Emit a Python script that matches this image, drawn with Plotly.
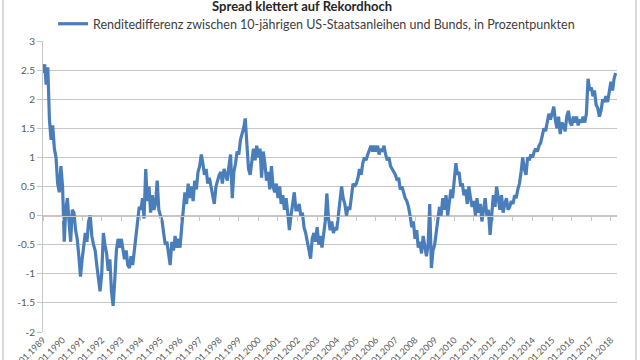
import plotly.graph_objects as go
import pandas as pd

# monthly readings, 1989-01 .. 2018-04
spread_1989 = [2.45, 2.6, 2.25, 2.55, 1.65, 1.3, 1.55, 1.15, 1.0, 0.55, 0.4, 0.85]
spread_1990 = [0.5, -0.45, 0.1, 0.3, -0.1, -0.45, 0.1, 0.05, -0.25, -0.4, -0.7, -1.05]
spread_1991 = [-0.75, -0.45, -0.3, -0.45, -0.1, 0.0, -0.35, -0.5, -0.6, -0.85, -1.05, -1.3]
spread_1992 = [-1.0, -0.3, -0.5, -0.65, -0.95, -0.75, -1.3, -1.55, -1.1, -0.6, -0.4, -0.55]
spread_1993 = [-0.4, -0.6, -0.75, -0.6, -0.85, -0.9, -0.7, -0.85, -0.6, -0.3, -0.05, 0.15]
spread_1994 = [0.1, 0.3, -0.05, 0.8, 0.25, 0.5, 0.05, 0.35, 0.1, 0.2, 0.6, 0.1]
spread_1995 = [0.0, -0.1, -0.3, -0.5, -0.45, -0.7, -0.85, -0.45, -0.6, -0.35, -0.55, -0.4]
spread_1996 = [-0.55, -0.2, 0.1, 0.4, 0.2, 0.55, 0.3, 0.5, 0.25, 0.6, 0.45, 0.75]
spread_1997 = [0.85, 1.05, 0.9, 0.7, 0.8, 0.55, 0.65, 0.5, 0.4, 0.2, 0.5, 0.6]
spread_1998 = [0.7, 0.75, 0.55, 0.8, 0.7, 0.6, 0.85, 1.05, 0.3, 0.75, 0.9, 1.1]
spread_1999 = [1.05, 1.3, 1.4, 1.5, 1.67, 1.1, 0.8, 0.7, 0.9, 1.15, 0.95, 1.2]
spread_2000 = [1.0, 1.15, 0.65, 1.1, 0.9, 0.6, 0.75, 0.45, 0.85, 0.5, 0.4, 0.55]
spread_2001 = [0.3, 0.5, 0.2, 0.35, 0.1, 0.3, 0.05, -0.25, 0.0, 0.2, 0.4, 0.1]
spread_2002 = [0.1, 0.2, 0.0, 0.05, -0.2, -0.3, -0.45, -0.55, -0.74, -0.4, -0.3, -0.45]
spread_2003 = [-0.2, -0.5, -0.35, -0.55, -0.3, -0.1, 0.38, -0.05, -0.25, -0.1, -0.3, -0.2]
spread_2004 = [-0.25, 0.0, 0.2, 0.5, 0.3, 0.2, 0.0, 0.15, 0.1, 0.35, 0.55, 0.5]
spread_2005 = [0.55, 0.65, 0.8, 0.7, 0.9, 1.0, 0.95, 1.05, 1.15, 1.2, 1.1, 1.2]
spread_2006 = [1.1, 1.2, 1.05, 1.15, 1.1, 1.2, 1.05, 0.95, 1.0, 0.85, 0.8, 0.75]
spread_2007 = [0.7, 0.6, 0.65, 0.45, 0.5, 0.4, 0.3, 0.25, 0.15, 0.0, -0.2, -0.1]
spread_2008 = [-0.4, -0.25, -0.55, -0.45, -0.65, -0.35, -0.55, -0.7, -0.5, 0.2, -0.9, -0.6]
spread_2009 = [-0.5, -0.3, -0.1, 0.15, 0.0, 0.3, 0.1, 0.35, 0.0, 0.2, 0.45, 0.3]
spread_2010 = [0.55, 0.9, 0.7, 0.75, 0.5, 0.55, 0.35, 0.45, 0.2, 0.5, 0.3, 0.15]
spread_2011 = [0.25, 0.0, 0.3, 0.05, 0.2, -0.1, 0.1, 0.3, 0.0, 0.1, -0.33, 0.1]
spread_2012 = [0.35, 0.15, 0.5, 0.3, 0.1, 0.35, 0.05, 0.2, 0.3, 0.1, 0.15, 0.25]
spread_2013 = [0.2, 0.35, 0.3, 0.45, 0.55, 0.75, 1.0, 0.8, 0.7, 1.0, 0.95, 1.05]
spread_2014 = [1.0, 1.1, 1.15, 1.1, 1.2, 1.25, 1.35, 1.5, 1.45, 1.6, 1.75, 1.65]
spread_2015 = [1.75, 1.87, 1.65, 1.5, 1.7, 1.4, 1.6, 1.55, 1.45, 1.7, 1.8, 1.6]
spread_2016 = [1.55, 1.7, 1.6, 1.7, 1.55, 1.65, 1.6, 1.7, 1.6, 1.75, 2.35, 2.15]
spread_2017 = [2.2, 2.05, 2.15, 1.9, 1.85, 1.7, 1.8, 2.0, 1.95, 2.05, 1.95, 2.1]
spread_2018 = [2.3, 2.15, 2.35, 2.45]

spread = (spread_1989 + spread_1990 + spread_1991 + spread_1992 + spread_1993 + spread_1994
          + spread_1995 + spread_1996 + spread_1997 + spread_1998 + spread_1999 + spread_2000
          + spread_2001 + spread_2002 + spread_2003 + spread_2004 + spread_2005 + spread_2006
          + spread_2007 + spread_2008 + spread_2009 + spread_2010 + spread_2011 + spread_2012
          + spread_2013 + spread_2014 + spread_2015 + spread_2016 + spread_2017 + spread_2018)
dates = pd.date_range("1989-01-01", periods=len(spread), freq="MS")

years = list(range(1989, 2019))
x_tick_vals = [f"{y}-01-01" for y in years]
x_tick_text = [f"01.01.{y}" for y in years]
y_tick_vals = [-2, -1.5, -1, -0.5, 0, 0.5, 1, 1.5, 2, 2.5, 3]
y_tick_text = ["-2", "-1.5", "-1", "-0.5", "0", "0.5", "1", "1.5", "2", "2.5", "3"]

title_text = "Spread klettert auf Rekordhoch"
series_name = "Renditedifferenz zwischen 10-jährigen US-Staatsanleihen und Bunds, in Prozentpunkten"

FONT = "Lato"
BLUE = "#4a7ebb"
GRID = "#c6c6c6"
TXT = "#595959"

fig = go.Figure()
fig.add_trace(go.Scatter(x=dates, y=spread, mode="lines", name=series_name,
                         line=dict(color=BLUE, width=3.2)))
# invisible trace on second x axis so that it renders (axis crossing at 0)
fig.add_trace(go.Scatter(x=[dates[0]], y=[0], xaxis="x2", mode="lines",
                         showlegend=False, hoverinfo="skip", line=dict(width=0)))

xr = ["1989-01-01", "2018-04-25"]
fig.update_layout(
    width=640, height=360,
    margin=dict(l=43, r=23, t=41, b=28, autoexpand=False),
    paper_bgcolor="white", plot_bgcolor="white",
    font=dict(family=FONT, color=TXT),
    title=dict(text=f"<b>{title_text}</b>", x=0.472, xanchor="center",
               y=0.981, yref="container", yanchor="middle",
               font=dict(size=13, color="#262626", family=FONT)),
    showlegend=True,
    legend=dict(orientation="h", x=0.0175, xanchor="left", y=1.058, yanchor="middle",
                font=dict(size=12.5, color="#404040", family=FONT),
                bgcolor="rgba(0,0,0,0)", itemwidth=30),
    xaxis=dict(type="date", range=xr, tickmode="array", tickvals=x_tick_vals,
               ticktext=x_tick_text, tickangle=-45, showgrid=False, zeroline=False,
               showline=False, ticks="", automargin=False,
               tickfont=dict(size=9, color=TXT)),
    xaxis2=dict(type="date", range=xr, overlaying="x", anchor="free", position=0.4,
                tickmode="array", tickvals=x_tick_vals, showticklabels=False,
                showline=True, linecolor=GRID, linewidth=1, ticks="outside",
                ticklen=4, tickcolor=GRID, showgrid=False, zeroline=False,
                automargin=False),
    yaxis=dict(range=[-2, 3], tickmode="array", tickvals=y_tick_vals, ticktext=y_tick_text,
               showgrid=True, gridcolor=GRID, gridwidth=1, zeroline=False,
               showline=True, linecolor=GRID, linewidth=1, ticks="outside",
               ticklen=5, tickcolor=GRID, automargin=False,
               tickfont=dict(size=10, color=TXT)),
    shapes=[dict(type="rect", xref="paper", yref="paper",
                 x0=-0.0697, x1=1.033, y0=-0.2, y1=1.2,
                 line=dict(color="#d9d9d9", width=2), fillcolor="rgba(0,0,0,0)",
                 layer="below")],
)

fig.write_html("out.html", config={"displayModeBar": False},
               post_script="document.body.style.margin='0';document.body.style.overflow='hidden';")
